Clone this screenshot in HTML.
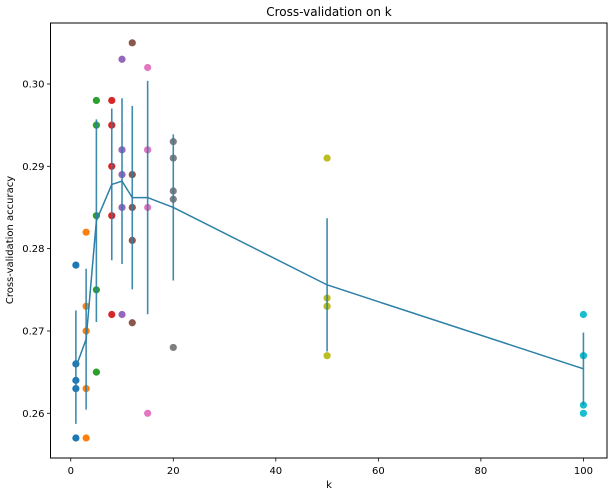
<!DOCTYPE html>
<html><head><meta charset="utf-8"><style>
html,body{margin:0;padding:0;background:#fff;}
svg{display:block;font-family:"DejaVu Sans","Liberation Sans",sans-serif;}
</style></head><body>
<svg id="chart" width="615" height="496" viewBox="0 0 615 496"></svg>
<script>
const kChoices = [1,3,5,8,10,12,15,20,50,100];
const acc1 = [0.263,0.257,0.264,0.278,0.266];
const acc3 = [0.257,0.263,0.273,0.282,0.270];
const acc5 = [0.265,0.275,0.295,0.298,0.284];
const acc8 = [0.272,0.295,0.284,0.298,0.290];
const acc10 = [0.272,0.303,0.289,0.292,0.285];
const acc12 = [0.271,0.305,0.285,0.289,0.281];
const acc15 = [0.260,0.302,0.292,0.292,0.285];
const acc20 = [0.268,0.293,0.291,0.287,0.286];
const acc50 = [0.273,0.291,0.274,0.267,0.273];
const acc100 = [0.261,0.272,0.267,0.260,0.267];
const accuracies = [acc1,acc3,acc5,acc8,acc10,acc12,acc15,acc20,acc50,acc100];
const xTicks = [0,20,40,60,80,100];
const yTicks = [0.26,0.27,0.28,0.29,0.30];
const colors = ['#1f77b4','#ff7f0e','#2ca02c','#d62728','#9467bd','#8c564b','#e377c2','#7f7f7f','#bcbd22','#17becf'];

const L=50.5,R=607,T=23,B=458;
const xMin=-3.95,xMax=104.6;
const yMin=0.26-(B-413.3)/8233,yMax=0.26+(413.3-T)/8233;
const xs=v=>L+(v-xMin)/(xMax-xMin)*(R-L);
const ys=v=>B-(v-yMin)/(yMax-yMin)*(B-T);
const svg=document.getElementById('chart');
const NS='http://www.w3.org/2000/svg';
function mk(tag,attrs,parent){const e=document.createElementNS(NS,tag);for(const k in attrs)e.setAttribute(k,attrs[k]);(parent||svg).appendChild(e);return e;}

// scatter points
accuracies.forEach((arr,i)=>{
  arr.forEach(v=>{
    const c=mk('circle',{cx:xs(kChoices[i]),cy:ys(v),r:3.6,fill:colors[i]});
    
    
  });
});
// mean / std
const means=accuracies.map(a=>a.reduce((s,v)=>s+v,0)/a.length);
const stds=accuracies.map((a,i)=>Math.sqrt(a.reduce((s,v)=>s+(v-means[i])**2,0)/a.length));
const ecol='#2c7fa5';
kChoices.forEach((k,i)=>{
  const l=mk('line',{x1:xs(k),x2:xs(k),y1:ys(means[i]-stds[i]),y2:ys(means[i]+stds[i]),stroke:ecol,'stroke-width':1.6,opacity:0.9});
  
  
});
const pl=mk('polyline',{points:kChoices.map((k,i)=>xs(k)+','+ys(means[i])).join(' '),fill:'none',stroke:ecol,'stroke-width':1.5});



// axes frame
const fr=mk('rect',{x:L,y:T,width:R-L,height:B-T,fill:'none',stroke:'#000','stroke-width':1});


xTicks.forEach(t=>{
  mk('line',{x1:xs(t),x2:xs(t),y1:B,y2:B+3.5,stroke:'#000','stroke-width':0.8});
  const tx=mk('text',{x:xs(t),y:B+16,'text-anchor':'middle','font-size':10,fill:'#000'});
  tx.textContent=t;
  
  
});
yTicks.forEach(t=>{
  mk('line',{x1:L-3.5,x2:L,y1:ys(t),y2:ys(t),stroke:'#000','stroke-width':0.8});
  const tx=mk('text',{x:L-6,y:ys(t)+3.5,'text-anchor':'end','font-size':10,fill:'#000'});
  tx.textContent=t.toFixed(2);
  
  
});
</script>
<svg style="position:absolute;left:0;top:0" width="615" height="496">
<text x="329" y="16" text-anchor="middle" font-size="12" font-family="DejaVu Sans, Liberation Sans, sans-serif">Cross-validation on k</text>
<text x="329" y="488" text-anchor="middle" font-size="10" font-family="DejaVu Sans, Liberation Sans, sans-serif">k</text>
<text x="0" y="0" transform="translate(13,240) rotate(-90)" text-anchor="middle" font-size="10" font-family="DejaVu Sans, Liberation Sans, sans-serif">Cross-validation accuracy</text>
</svg>
</body></html>
